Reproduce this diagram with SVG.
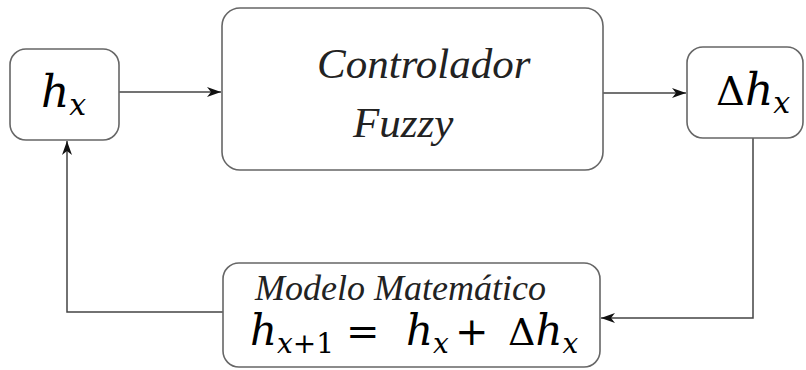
<svg xmlns="http://www.w3.org/2000/svg" width="806" height="370" viewBox="0 0 806 370">
<defs>
<style>
.box{fill:#fff;stroke:#666;stroke-width:1.6}
.ln{fill:none;stroke:#444;stroke-width:1.5}
</style>
<marker id="ah" viewBox="0 0 14 10" refX="14" refY="5" markerWidth="14" markerHeight="10" markerUnits="userSpaceOnUse" orient="auto">
<path d="M0,0 L14,5 L0,10 L4,5 z" fill="#111"/>
</marker>
</defs>
<rect width="806" height="370" fill="#fff"/>
<g id="connectors">
<line class="ln" x1="119" y1="92" x2="221" y2="92" marker-end="url(#ah)"/>
<line class="ln" x1="603" y1="93" x2="686" y2="93" marker-end="url(#ah)"/>
<polyline class="ln" points="753,138 753,318 601,318" marker-end="url(#ah)"/>
<polyline class="ln" points="223,312 67,312 67,141" marker-end="url(#ah)"/>
</g>
<g id="hx">
<rect class="box" x="10" y="49" width="109" height="91" rx="16"/>
<text font-family="DejaVu Serif" font-style="italic" fill="#000" x="41" y="107" font-size="44">h<tspan font-size="30" dy="8">x</tspan></text>
</g>
<g id="controlador">
<rect class="box" x="222" y="8" width="381" height="162" rx="18"/>
<text font-family="Liberation Serif" font-style="italic" fill="#222" x="317" y="78" font-size="43">Controlador</text>
<text font-family="Liberation Serif" font-style="italic" fill="#222" x="353" y="137" font-size="43">Fuzzy</text>
</g>
<g id="deltahx">
<rect class="box" x="687" y="47" width="116" height="91" rx="16"/>
<text font-family="DejaVu Serif" fill="#000" x="716" y="105" font-size="40">Δ<tspan font-style="italic" font-size="44">h</tspan><tspan font-style="italic" font-size="30" dy="8">x</tspan></text>
</g>
<g id="modelo">
<rect class="box" x="223" y="263" width="377" height="104" rx="16"/>
<text font-family="Liberation Serif" font-style="italic" fill="#222" x="255" y="300" font-size="36">Modelo Matemático</text>
<text font-family="DejaVu Serif" fill="#000" x="250" y="345" font-size="42"><tspan font-style="italic">h</tspan><tspan font-style="italic" font-size="28" dy="8">x</tspan><tspan font-size="28">+1</tspan></text>
<text font-family="DejaVu Serif" fill="#000" x="346" y="345" font-size="40">=</text>
<text font-family="DejaVu Serif" font-style="italic" fill="#000" x="406" y="345" font-size="42">h<tspan font-size="28" dy="8">x</tspan></text>
<text font-family="DejaVu Serif" fill="#000" x="455" y="345" font-size="40">+</text>
<text font-family="DejaVu Serif" fill="#000" x="508" y="345" font-size="38">Δ<tspan font-style="italic" font-size="42">h</tspan><tspan font-style="italic" font-size="28" dy="8">x</tspan></text>
</g>
</svg>
